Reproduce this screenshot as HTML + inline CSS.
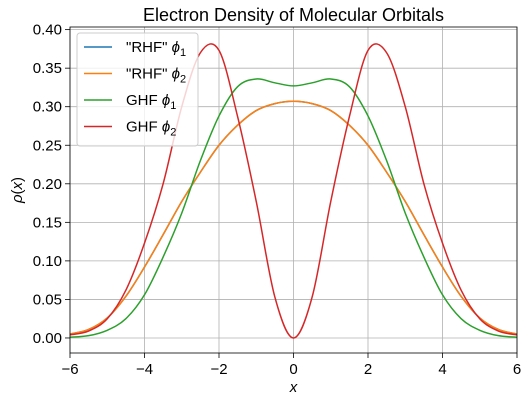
<!DOCTYPE html>
<html><head><meta charset="utf-8"><style>
body{margin:0;background:#fff;}
svg{display:block;font-family:"Liberation Sans","DejaVu Sans",sans-serif;}
</style></head><body>
<svg id="chart" width="528" height="401" xmlns="http://www.w3.org/2000/svg"></svg>
<script>
const xsHalf=[0,0.5,1,1.5,2,2.5,3,3.5,4,4.5,5,5.5,6];
const rhf1=[0.307,0.304,0.295,0.276,0.250,0.215,0.177,0.134,0.092,0.054,0.026,0.011,0.005];
const rhf2=[0.307,0.304,0.295,0.276,0.250,0.215,0.177,0.134,0.092,0.054,0.026,0.011,0.005];
const ghf1=[0.327,0.331,0.336,0.326,0.288,0.230,0.162,0.105,0.056,0.025,0.010,0.003,0.001];
const ghf2=[0.000,0.053,0.177,0.287,0.373,0.370,0.300,0.200,0.123,0.062,0.025,0.009,0.004];
const xTicks=[-6,-4,-2,0,2,4,6];
const yTicks=[0,0.05,0.10,0.15,0.20,0.25,0.30,0.35,0.40];
const colors=['#1f77b4','#ff7f0e','#2ca02c','#d62728'];

const L=70,R=517,T=27,B=353,xmin=-6,xmax=6,ymin=-0.0195,ymax=0.4034;
const sx=x=>L+(x-xmin)/(xmax-xmin)*(R-L);
const sy=y=>B-(y-ymin)/(ymax-ymin)*(B-T);
const svg=document.getElementById('chart');
const NS='http://www.w3.org/2000/svg';
function mk(tag,attrs,parent){const e=document.createElementNS(NS,tag);for(const k in attrs)e.setAttribute(k,attrs[k]);(parent||svg).appendChild(e);return e;}

xTicks.forEach(t=>{const g=mk('line',{x1:sx(t),x2:sx(t),y1:T,y2:B,stroke:'#b0b0b0','stroke-width':0.8});


const tk=mk('line',{x1:sx(t),x2:sx(t),y1:B,y2:B+5,stroke:'#000','stroke-width':0.8});


const lb=mk('text',{x:sx(t),y:B+21,'text-anchor':'middle','font-size':15,fill:'#000'});lb.textContent=(t<0?'−':'')+Math.abs(t);

});
yTicks.forEach(t=>{const g=mk('line',{x1:L,x2:R,y1:sy(t),y2:sy(t),stroke:'#b0b0b0','stroke-width':0.8});


const tk=mk('line',{x1:L-5,x2:L,y1:sy(t),y2:sy(t),stroke:'#000','stroke-width':0.8});


const lb=mk('text',{x:L-8,y:sy(t)+5,'text-anchor':'end','font-size':15,fill:'#000'});lb.textContent=t.toFixed(2);

});

function fullPts(vals){const pts=[];for(let i=xsHalf.length-1;i>0;i--)pts.push([-xsHalf[i],vals[i]]);for(let i=0;i<xsHalf.length;i++)pts.push([xsHalf[i],vals[i]]);return pts.map(p=>[sx(p[0]),sy(p[1])]);}
function pathD(p){let d='M'+p[0][0]+','+p[0][1];for(let i=0;i<p.length-1;i++){const p0=p[Math.max(i-1,0)],p1=p[i],p2=p[i+1],p3=p[Math.min(i+2,p.length-1)];
const c1=[p1[0]+(p2[0]-p0[0])/6,p1[1]+(p2[1]-p0[1])/6],c2=[p2[0]-(p3[0]-p1[0])/6,p2[1]-(p3[1]-p1[1])/6];
d+=' C'+c1[0]+','+c1[1]+' '+c2[0]+','+c2[1]+' '+p2[0]+','+p2[1];}return d;}
const clip=mk('clipPath',{id:'pc'});mk('rect',{x:L,y:T,width:R-L,height:B-T},clip);
[rhf1,rhf2,ghf1,ghf2].forEach((s,i)=>{const p=mk('path',{d:pathD(fullPts(s)),fill:'none',stroke:colors[i],'stroke-width':1.5,'clip-path':'url(#pc)'});

});

const fr=mk('rect',{x:L,y:T,width:R-L,height:B-T,fill:'none',stroke:'#000','stroke-width':0.8});



const lg=mk('g',{});


mk('rect',{x:77,y:33,width:121,height:113,rx:3,fill:'#fff','fill-opacity':0.8,stroke:'#ccc'},lg);
const labels=[['"RHF" ','1'],['"RHF" ','2'],['GHF ','1'],['GHF ','2']];
labels.forEach((l,i)=>{const y=47+i*26.5;
const ln=mk('line',{x1:84,x2:112,y1:y,y2:y,stroke:colors[i],'stroke-width':1.5},lg);


const t=mk('text',{x:126,y:y+5,'font-size':15,fill:'#000'},lg);


t.appendChild(document.createTextNode(l[0]));
const ph=mk('tspan',{'font-style':'italic'},t);ph.textContent='ϕ';
const sb=mk('tspan',{'font-size':11,dy:4},t);sb.textContent=l[1];});

const ti=mk('text',{x:293.5,y:21,'text-anchor':'middle','font-size':18,fill:'#000'});ti.textContent='Electron Density of Molecular Orbitals';


const xl=mk('text',{x:293.5,y:392,'text-anchor':'middle','font-size':15,'font-style':'italic',fill:'#000'});xl.textContent='x';


const yl=mk('text',{x:22,y:190,'text-anchor':'middle','font-size':15,fill:'#000',transform:'rotate(-90 22 190)'});


const r=mk('tspan',{'font-style':'italic'},yl);r.textContent='ρ';
yl.appendChild(document.createTextNode('('));
const xx=mk('tspan',{'font-style':'italic'},yl);xx.textContent='x';
yl.appendChild(document.createTextNode(')'));
</script>
</body></html>
